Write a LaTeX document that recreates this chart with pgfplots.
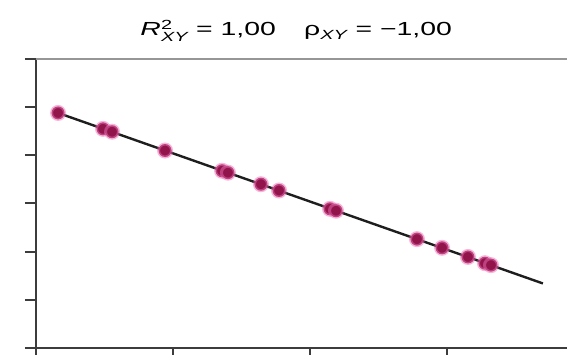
\documentclass[border=0pt]{standalone}
\usepackage{pgfplots}
\pgfplotsset{compat=1.18}
\usepackage{amsmath}
\usepackage{fontspec}
\setmainfont{Liberation Sans}
\definecolor{axgray}{RGB}{60,60,60}
\definecolor{ptfill}{RGB}{145,20,75}
\definecolor{pthalo}{RGB}{235,110,180}
\begin{document}
\begin{tikzpicture}
\begin{axis}[name=ax, scale only axis, width=531bp, height=289bp,
  xmin=0, xmax=3.876, ymin=0, ymax=6,
  axis x line*=bottom, axis y line*=left,
  axis line style={-, draw=axgray, line width=2.2bp},
  xtick={0,1,2,3}, ytick={0,1,2,3,4,5,6},
  xticklabels={}, yticklabels={},
  tick align=outside, major tick length=11bp,
  tick style={draw=axgray, line width=2bp},
  clip=false]
\draw[draw={rgb,255:red,150;green,150;blue,150}, line width=1.6bp] (rel axis cs:0,1) -- (rel axis cs:1,1);
\addplot[only marks, mark=*, mark size=6.5bp,
  mark options={fill=ptfill, draw=pthalo, draw opacity=0.5, line width=3bp}]
  coordinates {
  (0.161,4.88) (0.489,4.55) (0.555,4.49) (0.942,4.10) (1.358,3.68)
  (1.401,3.64) (1.642,3.40) (1.774,3.27) (2.146,2.89) (2.190,2.85)
  (2.781,2.26) (2.964,2.08) (3.153,1.89) (3.277,1.76) (3.321,1.72)
  };
\addplot[draw={rgb,255:red,30;green,30;blue,30}, line width=2.4bp, no marks]
  coordinates {(0.161,4.88) (3.70,1.34)};
\node[font=\fontsize{19}{22}\selectfont] at (rel axis cs:0.49,1) [yshift=28bp]
  {\scalebox{1.5}[1]{\textit{R}$^{\text{2}}_{\text{\itshape XY}}$ = 1,00\hspace{1.0em}ρ$_{\text{\itshape XY}}$ = −1,00}};
\end{axis}
\pgfresetboundingbox
\path ([xshift=-36bp,yshift=-7bp]ax.south west) rectangle ([yshift=59bp]ax.north east);
\end{tikzpicture}
\end{document}
